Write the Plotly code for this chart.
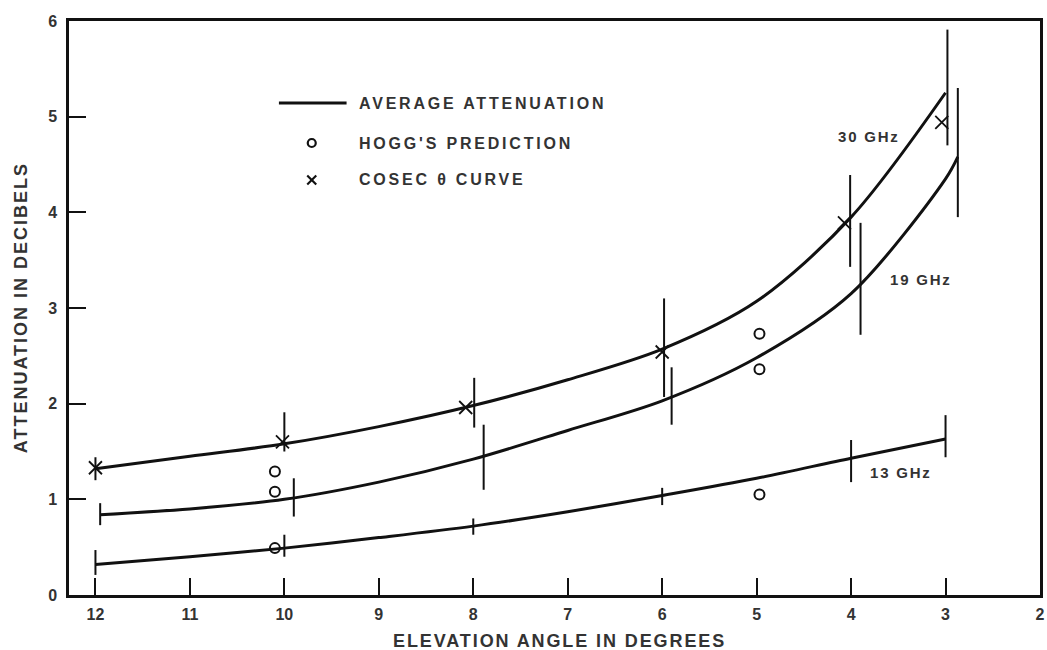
import plotly.graph_objects as go

# ---------------- data ----------------
# Average attenuation curves
x_30 = [12, 11, 10, 9, 8, 7, 6, 5, 4, 3]
y_30 = [1.32, 1.45, 1.58, 1.76, 1.98, 2.25, 2.57, 3.07, 3.95, 5.25]

x_19 = [11.95, 11, 10, 9, 8, 7, 6, 5, 4, 3, 2.87]
y_19 = [0.84, 0.90, 1.00, 1.18, 1.42, 1.72, 2.03, 2.48, 3.15, 4.35, 4.58]

x_13 = [12, 11, 10, 9, 8, 7, 6, 5, 4, 3]
y_13 = [0.32, 0.40, 0.49, 0.60, 0.72, 0.87, 1.04, 1.22, 1.43, 1.63]

# Spread bars (vertical ranges)
bar_x_30 = [12, 10, 7.99, 5.98, 4.01, 2.98]
bar_lo_30 = [1.20, 1.50, 1.75, 2.07, 3.43, 4.70]
bar_hi_30 = [1.44, 1.91, 2.27, 3.10, 4.39, 5.91]

bar_x_19 = [11.95, 9.9, 7.89, 5.9, 3.9, 2.87]
bar_lo_19 = [0.73, 0.82, 1.10, 1.78, 2.72, 3.95]
bar_hi_19 = [0.96, 1.22, 1.78, 2.38, 3.89, 5.30]

bar_x_13 = [12, 10, 8, 6, 4, 3]
bar_lo_13 = [0.21, 0.40, 0.63, 0.94, 1.18, 1.44]
bar_hi_13 = [0.47, 0.63, 0.80, 1.12, 1.62, 1.88]

# Hogg's prediction (circles)
hogg_x = [10.1, 10.1, 10.1, 4.97, 4.97, 4.97]
hogg_y = [1.29, 1.08, 0.49, 2.73, 2.36, 1.05]

# Cosec theta curve (crosses)
cosec_x = [12, 10.02, 8.08, 6.0, 4.07, 3.04]
cosec_y = [1.33, 1.60, 1.96, 2.54, 3.89, 4.94]

x_ticks = [12, 11, 10, 9, 8, 7, 6, 5, 4, 3, 2]
y_ticks = [0, 1, 2, 3, 4, 5, 6]

freq_labels = ["30 GHz", "19 GHz", "13 GHz"]
freq_label_x = [3.81, 3.26, 3.47]
freq_label_y = [4.79, 3.30, 1.28]

legend_labels = ["AVERAGE ATTENUATION", "HOGG'S PREDICTION", "COSEC \u03b8 CURVE"]

# ---------------- styling ----------------
INK = "#111111"
TXT = "#333333"
FONT = "Liberation Sans, Arial, sans-serif"

W, H = 1047, 650
ML, MR, MT, MB = 69, 2, 21, 55
PW, PH = W - ML - MR, H - MT - MB


def px_x(p):  # pixel -> paper (x)
    return (p - ML) / PW


def px_y(p):  # pixel -> paper (y)
    return (H - MB - p) / PH


def spaced(s, px):
    return f'<span style="letter-spacing:{px}px">{s}</span>'


def segments(xs, lo, hi):
    sx, sy = [], []
    for x, a, b in zip(xs, lo, hi):
        sx += [x, x, None]
        sy += [a, b, None]
    return sx, sy


fig = go.Figure()

for xs, ys in [(x_30, y_30), (x_19, y_19), (x_13, y_13)]:
    fig.add_trace(go.Scatter(x=xs, y=ys, mode="lines",
                             line=dict(color=INK, width=3, shape="spline", smoothing=0.9),
                             showlegend=False, hoverinfo="skip"))

for xs, lo, hi in [(bar_x_30, bar_lo_30, bar_hi_30),
                   (bar_x_19, bar_lo_19, bar_hi_19),
                   (bar_x_13, bar_lo_13, bar_hi_13)]:
    sx, sy = segments(xs, lo, hi)
    fig.add_trace(go.Scatter(x=sx, y=sy, mode="lines",
                             line=dict(color=INK, width=2),
                             showlegend=False, hoverinfo="skip"))

fig.add_trace(go.Scatter(x=hogg_x, y=hogg_y, mode="markers",
                         marker=dict(symbol="circle-open", size=10, color=INK,
                                     line=dict(width=2, color=INK)),
                         showlegend=False))
fig.add_trace(go.Scatter(x=cosec_x, y=cosec_y, mode="markers",
                         marker=dict(symbol="x-thin", size=13, color=INK,
                                     line=dict(width=1.8, color=INK)),
                         showlegend=False))

# ---------------- custom legend (shapes + annotations in paper space) ----------------
shapes = []
leg_rows = [103, 143, 180]          # pixel rows of the legend entries
leg_glyph_x = 313                   # pixel column of glyph centres
leg_text_x = 358                    # pixel column where legend text starts

shapes.append(dict(type="line", xref="paper", yref="paper",
                   x0=px_x(280), x1=px_x(348), y0=px_y(leg_rows[0]), y1=px_y(leg_rows[0]),
                   line=dict(color=INK, width=3)))
shapes.append(dict(type="circle", xref="paper", yref="paper",
                   xsizemode="pixel", ysizemode="pixel",
                   xanchor=px_x(leg_glyph_x), yanchor=px_y(leg_rows[1]),
                   x0=-4, x1=4, y0=-4, y1=4,
                   line=dict(color=INK, width=2.2)))
for d in (1, -1):
    shapes.append(dict(type="line", xref="paper", yref="paper",
                       xsizemode="pixel", ysizemode="pixel",
                       xanchor=px_x(leg_glyph_x), yanchor=px_y(leg_rows[2]),
                       x0=-4.5, x1=4.5, y0=-4.5 * d, y1=4.5 * d,
                       line=dict(color=INK, width=2.2)))

annotations = []
for lab, row in zip(legend_labels, leg_rows):
    annotations.append(dict(x=px_x(leg_text_x), y=px_y(row), xref="paper", yref="paper",
                            text=spaced(lab, 2.8),
                            showarrow=False, xanchor="left", yanchor="middle",
                            font=dict(family=FONT, size=16, color=TXT, weight="bold")))

for lab, lx, ly in zip(freq_labels, freq_label_x, freq_label_y):
    annotations.append(dict(x=lx, y=ly, xref="x", yref="y", text=spaced(lab, 1.8),
                            showarrow=False, xanchor="center", yanchor="middle",
                            font=dict(family=FONT, size=15, color=TXT, weight="bold")))

# axis titles
annotations.append(dict(x=px_x(562), y=px_y(641), xref="paper", yref="paper",
                        text=spaced("ELEVATION ANGLE IN DEGREES", 1.9),
                        showarrow=False, xanchor="center", yanchor="middle",
                        font=dict(family=FONT, size=18, color=TXT, weight="bold")))
annotations.append(dict(x=px_x(21), y=px_y(308), xref="paper", yref="paper",
                        text=spaced("ATTENUATION IN DECIBELS", 2.0), textangle=-90,
                        showarrow=False, xanchor="center", yanchor="middle",
                        font=dict(family=FONT, size=18, color=TXT, weight="bold")))

tickfont = dict(family=FONT, size=16, color=TXT, weight="bold")

fig.update_layout(
    width=W, height=H,
    margin=dict(l=ML, r=MR, t=MT, b=MB),
    paper_bgcolor="white", plot_bgcolor="white",
    showlegend=False,
    annotations=annotations,
    shapes=shapes,
    xaxis=dict(range=[12.28, 2], tickmode="array", tickvals=x_ticks,
               ticktext=[str(t) for t in x_ticks],
               ticks="inside", ticklen=17, tickwidth=2, tickcolor=INK,
               showline=True, linewidth=2.5, linecolor=INK, mirror=True,
               showgrid=False, zeroline=False, ticklabelstandoff=3,
               tickfont=tickfont),
    yaxis=dict(range=[0, 6], tickmode="array", tickvals=y_ticks,
               ticktext=[str(t) for t in y_ticks],
               ticks="inside", ticklen=17, tickwidth=2, tickcolor=INK,
               showline=True, linewidth=2.5, linecolor=INK, mirror=True,
               showgrid=False, zeroline=False, ticklabelstandoff=6,
               tickfont=tickfont),
)

fig.write_html("out.html",
               config={"displayModeBar": False},
               post_script="document.body.style.margin='0';document.body.style.overflow='hidden';")
